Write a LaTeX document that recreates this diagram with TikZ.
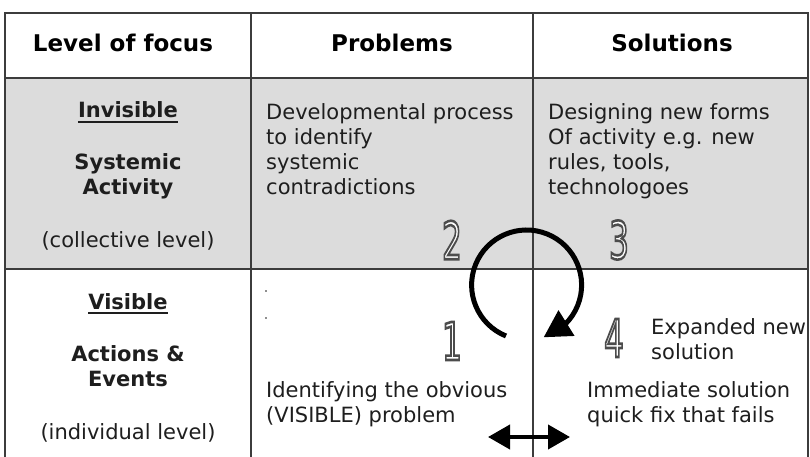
\documentclass[tikz,border=0pt]{standalone}
\usepackage{graphicx}
\usepackage{fontspec}
\setmainfont{DejaVu Sans}
\usetikzlibrary{arrows.meta,bending}
\definecolor{cellgray}{RGB}{220,220,220}
\definecolor{rulegray}{RGB}{60,60,60}
\definecolor{txt}{RGB}{30,30,30}
\tikzset{
  gridline/.style={draw=rulegray, line width=1.5pt},
  hdr/.style={inner sep=0pt, text=black, font=\fontsize{23}{27}\selectfont\bfseries},
  lbold/.style={inner sep=0pt, text=txt, font=\fontsize{21}{25}\selectfont\bfseries},
  lnorm/.style={inner sep=0pt, text=txt, font=\fontsize{21}{25}\selectfont},
  body/.style={inner sep=0pt, text=txt, align=left, font=\fontsize{21}{25}\selectfont},
  digitbox/.style={inner sep=0pt, text=white, font=\fontsize{52}{52}\selectfont},
  bigarrow/.style={line width=5pt, -{Triangle[length=27pt,width=29pt]}},
  dblarrow/.style={line width=4pt, {Triangle[length=22pt,width=24pt]}-{Triangle[length=22pt,width=24pt]}},
}
\newcommand\outdig[3]{%
  \node[digitbox] (#1) at (#2) {\scalebox{0.6}[1]{\special{pdf:literal direct 2 Tr 2.6 w 0.3 G}#3\special{pdf:literal direct 0 Tr}}};
}
\begin{document}
\begin{tikzpicture}[x=1pt,y=-1pt]
\useasboundingbox (0,0) rectangle (810,457);
\fill[white] (0,0) rectangle (810,457);
% grey band
\fill[cellgray] (5,78) rectangle (808,269);
% grid
\draw[gridline] (5,457) -- (5,13) -- (808,13) -- (808,457);
\draw[gridline] (5,78) -- (808,78);
\draw[gridline] (5,269) -- (808,269);
\draw[gridline] (251,13) -- (251,457);
\draw[gridline] (533,13) -- (533,457);
% headers
\node[hdr, anchor=base] (h1) at (123,52) {Level of focus};
\node[hdr, anchor=base] (h2) at (392,52) {Problems};
\node[hdr, anchor=base] (h3) at (672,52) {Solutions};
% left column
\node[lbold, anchor=base] (inv) at (128,118) {Invisible};
\draw[txt, line width=1.5pt] ([yshift=-4pt]inv.base west) -- ([yshift=-4pt]inv.base east);
\node[lbold, anchor=base] (sys) at (128,169) {Systemic};
\node[lbold, anchor=base] (act) at (128,194) {Activity};
\node[lnorm, anchor=base] (col) at (128,247) {(collective level)};
\node[lbold, anchor=base] (vis) at (128,309) {Visible};
\draw[txt, line width=1.5pt] ([yshift=-4pt]vis.base west) -- ([yshift=-4pt]vis.base east);
\node[lbold, anchor=base] (acn) at (128,361) {Actions \&};
\node[lbold, anchor=base] (evt) at (128,386) {Events};
\node[lnorm, anchor=base] (ind) at (128,439) {(individual level)};
% cells (base anchor = baseline of last line)
\node[body, anchor=base west] (p1) at (266,194) {Developmental process\\to identify\\systemic\\contradictions};
\node[body, anchor=base west] (s1) at (548,194) {Designing new forms\\Of activity e.g. new\\rules, tools,\\technologoes};
\node[body, anchor=base west] (p2) at (266,422) {Identifying the obvious\\(VISIBLE) problem};
\node[body, anchor=base west] (s2) at (587,422) {Immediate solution\\quick fix that fails};
\node[body, anchor=base west] (s3) at (651,359) {Expanded new\\solution};
% stray dots
\fill[txt] (266,291) circle (0.8);
\fill[txt] (266,318) circle (0.8);
% outlined numbers
\outdig{n2}{452,240}{2}
\outdig{n3}{619,240}{3}
\outdig{n1}{452,341}{1}
\outdig{n4}{614,338}{4}
% circular arrow
\coordinate (tail) at (506,336);
\draw[bigarrow] (tail) arc[start angle=112, end angle=432, radius=55];
% double arrow
\coordinate (da) at (488,437);
\coordinate (db) at (570,437);
\draw[dblarrow] (da) -- (db);
\end{tikzpicture}
\end{document}
